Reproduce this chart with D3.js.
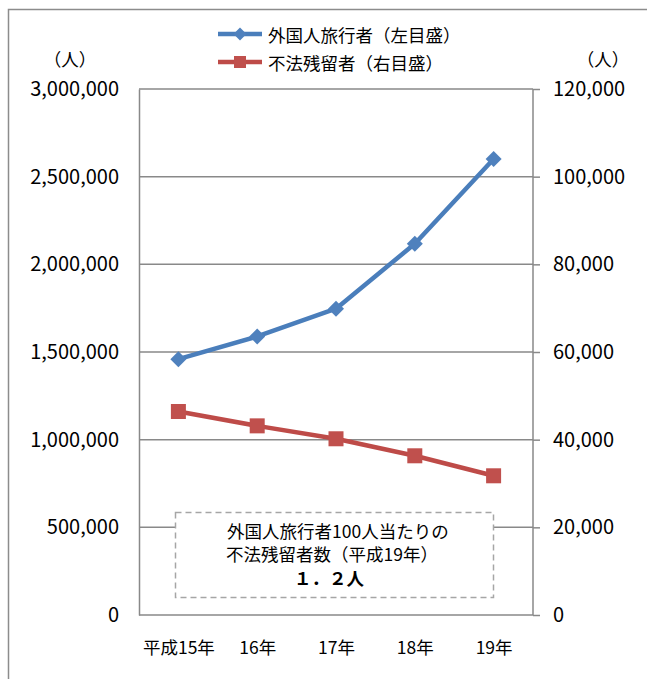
<!DOCTYPE html>
<html lang="ja">
<head>
<meta charset="utf-8">
<script src="https://cdn.jsdelivr.net/npm/d3@7"></script>
<style>
  html, body { margin: 0; padding: 0; background: #fff; }
  svg { display: block; }
  text { font-family: "Noto Sans CJK JP", "Noto Sans", sans-serif; fill: #000; }
</style>
</head>
<body>
<svg id="chart" width="647" height="679"></svg>
<script>
// Years (Heisei era) on the category axis
const categories = ["平成15年", "16年", "17年", "18年", "19年"];
// Foreign visitors, left axis (persons)
const visitors = [1459333, 1588472, 1747171, 2117325, 2600694];
// Illegal overstayers, right axis (persons)
const overstayers = [46425, 43151, 40203, 36321, 31758];
// Axis tick values
const leftTicks = [0, 500000, 1000000, 1500000, 2000000, 2500000, 3000000];
const rightTicks = [0, 20000, 40000, 60000, 80000, 100000, 120000];
const seriesNames = ["外国人旅行者（左目盛）", "不法残留者（右目盛）"];
const noteLines = ["外国人旅行者100人当たりの", "不法残留者数（平成19年）", "１．２人"];

const svg = d3.select("#chart");
const plot = { left: 139, right: 533, top: 89, bottom: 615 };
const gridColor = "#898989";
const blue = "#4A7EBB", blueMark = "#4F81BD";
const red = "#BE4B48", redMark = "#C0504D";

// Outer frame (only top and left edges fall inside the view)
svg.append("rect")
  .attr("x", 8.5).attr("y", 9.5).attr("width", 700).attr("height", 700)
  .attr("fill", "none").attr("stroke", "#8c8c8c").attr("stroke-width", 1.5);

const x = d3.scalePoint().domain(categories).range([plot.left, plot.right]).padding(0.5);
const yL = d3.scaleLinear().domain([0, 3000000]).range([plot.bottom, plot.top]);
const yR = d3.scaleLinear().domain([0, 120000]).range([plot.bottom, plot.top]);

// Horizontal gridlines
svg.append("g").selectAll("line").data(leftTicks.slice(1)).join("line")
  .attr("x1", plot.left).attr("x2", plot.right)
  .attr("y1", d => yL(d)).attr("y2", d => yL(d))
  .attr("stroke", gridColor).attr("stroke-width", 1.5);

// Left axis
const leftAxis = svg.append("g").attr("transform", `translate(${plot.left},0)`)
  .call(d3.axisLeft(yL).tickValues(leftTicks).tickSize(0).tickPadding(20)
    .tickFormat(d3.format(",")));
leftAxis.select(".domain").attr("stroke", gridColor).attr("stroke-width", 1.5);
leftAxis.selectAll("text").attr("font-size", 20).attr("fill", "#000")
  .style("font-family", "'Noto Sans CJK JP', 'Noto Sans', sans-serif");

// Right axis
const rightAxis = svg.append("g").attr("transform", `translate(${plot.right},0)`)
  .call(d3.axisRight(yR).tickValues(rightTicks).tickSize(7).tickPadding(13)
    .tickFormat(d3.format(",")));
rightAxis.select(".domain").attr("stroke", gridColor).attr("stroke-width", 1.5)
  .attr("d", `M0,${plot.top}V${plot.bottom}`);
rightAxis.selectAll(".tick line").attr("stroke", gridColor).attr("stroke-width", 1.5);
rightAxis.selectAll("text").attr("font-size", 20).attr("fill", "#000")
  .style("font-family", "'Noto Sans CJK JP', 'Noto Sans', sans-serif");

// Bottom axis
const bottomAxis = svg.append("g").attr("transform", `translate(0,${plot.bottom})`)
  .call(d3.axisBottom(x).tickSize(0).tickPadding(27));
bottomAxis.select(".domain").attr("stroke", gridColor).attr("stroke-width", 1.5)
  .attr("d", `M${plot.left},0H${plot.right}`);
bottomAxis.selectAll("text").attr("font-size", 17.5).attr("fill", "#000")
  .style("font-family", "'Noto Sans CJK JP', sans-serif");

// Unit labels
svg.append("text").attr("x", 70).attr("y", 58).attr("text-anchor", "middle")
  .attr("dominant-baseline", "central").attr("font-size", 17.5).text("（人）");
svg.append("text").attr("x", 603).attr("y", 58).attr("text-anchor", "middle")
  .attr("dominant-baseline", "central").attr("font-size", 17.5).text("（人）");

// Note box
const note = svg.append("g");
note.append("rect").attr("x", 175.5).attr("y", 512.5).attr("width", 318).attr("height", 85)
  .attr("fill", "#fff").attr("stroke", "#a6a6a6").attr("stroke-width", 1.5)
  .attr("stroke-dasharray", "6,4");
note.append("text").attr("x", 227).attr("y", 530).attr("dominant-baseline", "central")
  .attr("font-size", 17.5).text(noteLines[0]);
note.append("text").attr("x", 226).attr("y", 553).attr("dominant-baseline", "central")
  .attr("font-size", 17.5).text(noteLines[1]);
note.append("text").attr("x", 329).attr("y", 577).attr("text-anchor", "middle")
  .attr("dominant-baseline", "central").attr("font-size", 17.5).attr("font-weight", "bold")
  .text(noteLines[2]);

// Series lines
const lineL = d3.line().x((d, i) => x(categories[i])).y(d => yL(d));
const lineR = d3.line().x((d, i) => x(categories[i])).y(d => yR(d));

svg.append("path").datum(overstayers).attr("d", lineR)
  .attr("fill", "none").attr("stroke", red).attr("stroke-width", 4.5).attr("stroke-linejoin", "round");
svg.append("g").selectAll("rect").data(overstayers).join("rect")
  .attr("x", (d, i) => x(categories[i]) - 7.5).attr("y", d => yR(d) - 7.5)
  .attr("width", 15).attr("height", 15).attr("fill", redMark);

svg.append("path").datum(visitors).attr("d", lineL)
  .attr("fill", "none").attr("stroke", blue).attr("stroke-width", 4.5).attr("stroke-linejoin", "round");
const diamond = r => `M0,${-r}L${r},0L0,${r}L${-r},0Z`;
svg.append("g").selectAll("path").data(visitors).join("path")
  .attr("transform", (d, i) => `translate(${x(categories[i])},${yL(d)})`)
  .attr("d", diamond(8)).attr("fill", blueMark);

// Legend
const legend = svg.append("g");
const legendItems = [
  { name: seriesNames[0], color: blue, mark: blueMark, shape: "diamond", y: 34 },
  { name: seriesNames[1], color: red, mark: redMark, shape: "square", y: 62 }
];
legendItems.forEach(item => {
  legend.append("line").attr("x1", 218).attr("x2", 262).attr("y1", item.y).attr("y2", item.y)
    .attr("stroke", item.color).attr("stroke-width", 4.5);
  if (item.shape === "diamond") {
    legend.append("path").attr("transform", `translate(240,${item.y})`)
      .attr("d", diamond(6.5)).attr("fill", item.mark);
  } else {
    legend.append("rect").attr("x", 234).attr("y", item.y - 6).attr("width", 12).attr("height", 12)
      .attr("fill", item.mark);
  }
  legend.append("text").attr("x", 268).attr("y", item.y).attr("dominant-baseline", "central")
    .attr("font-size", 17.5).text(item.name);
});
</script>
</body>
</html>
